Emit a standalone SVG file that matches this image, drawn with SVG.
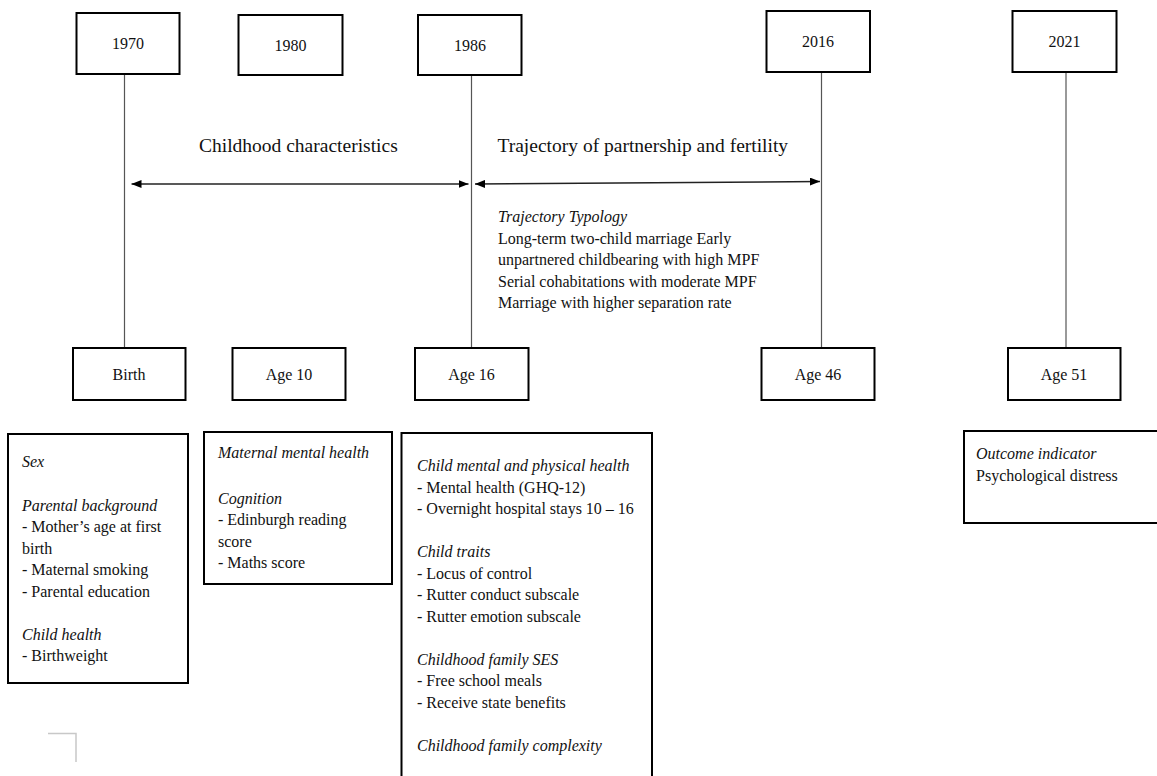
<svg xmlns="http://www.w3.org/2000/svg" width="1157" height="776" viewBox="0 0 1157 776">
<style>
text{font-family:"Liberation Serif","Times New Roman",serif;fill:#111}
.lbl{font-size:16px;text-anchor:middle}
.hd{font-size:19.5px}
.t{font-size:16px}
.i{font-style:italic}
.box{fill:#fff;stroke:#000;stroke-width:2}
.vl{stroke:#555;stroke-width:1.2;fill:none}
.arr{stroke:#222;stroke-width:1.5;fill:none;marker-start:url(#ah);marker-end:url(#ah)}
</style>
<defs>
<marker id="ah" markerUnits="userSpaceOnUse" markerWidth="10" markerHeight="8" refX="10" refY="4" orient="auto-start-reverse"><path d="M0,0 L10,4 L0,8 z" fill="#000"/></marker>
</defs>
<g id="connectors">
<line class="vl" x1="124.5" y1="74" x2="124.5" y2="348"/>
<line class="vl" x1="471.5" y1="75" x2="471.5" y2="348"/>
<line class="vl" x1="821.5" y1="72" x2="821.5" y2="348"/>
<line class="vl" x1="1066" y1="72" x2="1066" y2="348"/>
<line class="arr" x1="131.5" y1="184" x2="468.5" y2="184"/>
<line class="arr" x1="475" y1="184" x2="820" y2="181.5"/>
</g>
<g id="y1970"><rect class="box" x="76.5" y="13" width="103" height="61"/><text class="lbl" x="128" y="49">1970</text></g>
<g id="y1980"><rect class="box" x="238.5" y="15" width="104" height="60"/><text class="lbl" x="290.5" y="50.5">1980</text></g>
<g id="y1986"><rect class="box" x="418" y="15" width="103.5" height="60"/><text class="lbl" x="470" y="50.5">1986</text></g>
<g id="y2016"><rect class="box" x="766.5" y="11" width="103.5" height="61"/><text class="lbl" x="818" y="47">2016</text></g>
<g id="y2021"><rect class="box" x="1012.5" y="11" width="104" height="61"/><text class="lbl" x="1064.5" y="47">2021</text></g>
<g id="headings">
<text class="hd" x="199" y="152">Childhood characteristics</text>
<text class="hd" x="497.5" y="152">Trajectory of partnership and fertility</text>
</g>
<g id="typology">
<text class="t i" x="498" y="222">Trajectory Typology</text>
<text class="t" x="498" y="243.5">Long-term two-child marriage Early</text>
<text class="t" x="498" y="265">unpartnered childbearing with high MPF</text>
<text class="t" x="498" y="286.5">Serial cohabitations with moderate MPF</text>
<text class="t" x="498" y="308">Marriage with higher separation rate</text>
</g>
<g id="birth"><rect class="box" x="73" y="348" width="112.5" height="52"/><text class="lbl" x="129" y="380">Birth</text></g>
<g id="age10"><rect class="box" x="232.5" y="348" width="113" height="52"/><text class="lbl" x="289" y="380">Age 10</text></g>
<g id="age16"><rect class="box" x="415" y="348" width="113.5" height="52"/><text class="lbl" x="471.5" y="380">Age 16</text></g>
<g id="age46"><rect class="box" x="761.5" y="348" width="113" height="52"/><text class="lbl" x="818" y="380">Age 46</text></g>
<g id="age51"><rect class="box" x="1008" y="348" width="112.5" height="52"/><text class="lbl" x="1064" y="380">Age 51</text></g>
<g id="birthVars"><rect class="box" x="8" y="434" width="180" height="249"/>
<text class="t i" x="22" y="467">Sex</text>
<text class="t i" x="22" y="510.5">Parental background</text>
<text class="t" x="22" y="532">- Mother’s age at first</text>
<text class="t" x="22" y="553.5">birth</text>
<text class="t" x="22" y="575">- Maternal smoking</text>
<text class="t" x="22" y="596.5">- Parental education</text>
<text class="t i" x="22" y="639.5">Child health</text>
<text class="t" x="22" y="661">- Birthweight</text>
</g>
<g id="age10Vars"><rect class="box" x="204" y="432" width="188" height="152"/>
<text class="t i" x="218" y="458">Maternal mental health</text>
<text class="t i" x="218" y="503.5">Cognition</text>
<text class="t" x="218" y="525">- Edinburgh reading</text>
<text class="t" x="218" y="546.5">score</text>
<text class="t" x="218" y="568">- Maths score</text>
</g>
<g id="age16Vars"><rect class="box" x="401.5" y="433" width="250.5" height="360"/>
<text class="t i" x="417" y="471">Child mental and physical health</text>
<text class="t" x="417" y="492.5">- Mental health (GHQ-12)</text>
<text class="t" x="417" y="514">- Overnight hospital stays 10 – 16</text>
<text class="t i" x="417" y="557">Child traits</text>
<text class="t" x="417" y="578.5">- Locus of control</text>
<text class="t" x="417" y="600">- Rutter conduct subscale</text>
<text class="t" x="417" y="621.5">- Rutter emotion subscale</text>
<text class="t i" x="417" y="664.5">Childhood family SES</text>
<text class="t" x="417" y="686">- Free school meals</text>
<text class="t" x="417" y="707.5">- Receive state benefits</text>
<text class="t i" x="417" y="750.5">Childhood family complexity</text>
</g>
<g id="outcome"><rect class="box" x="964" y="431" width="210" height="92"/>
<text class="t i" x="976" y="459">Outcome indicator</text>
<text class="t" x="976" y="481">Psychological distress</text>
</g>
<path d="M48,733.5 H76 V762" fill="none" stroke="#c8c8c8" stroke-width="1.5"/>
</svg>
